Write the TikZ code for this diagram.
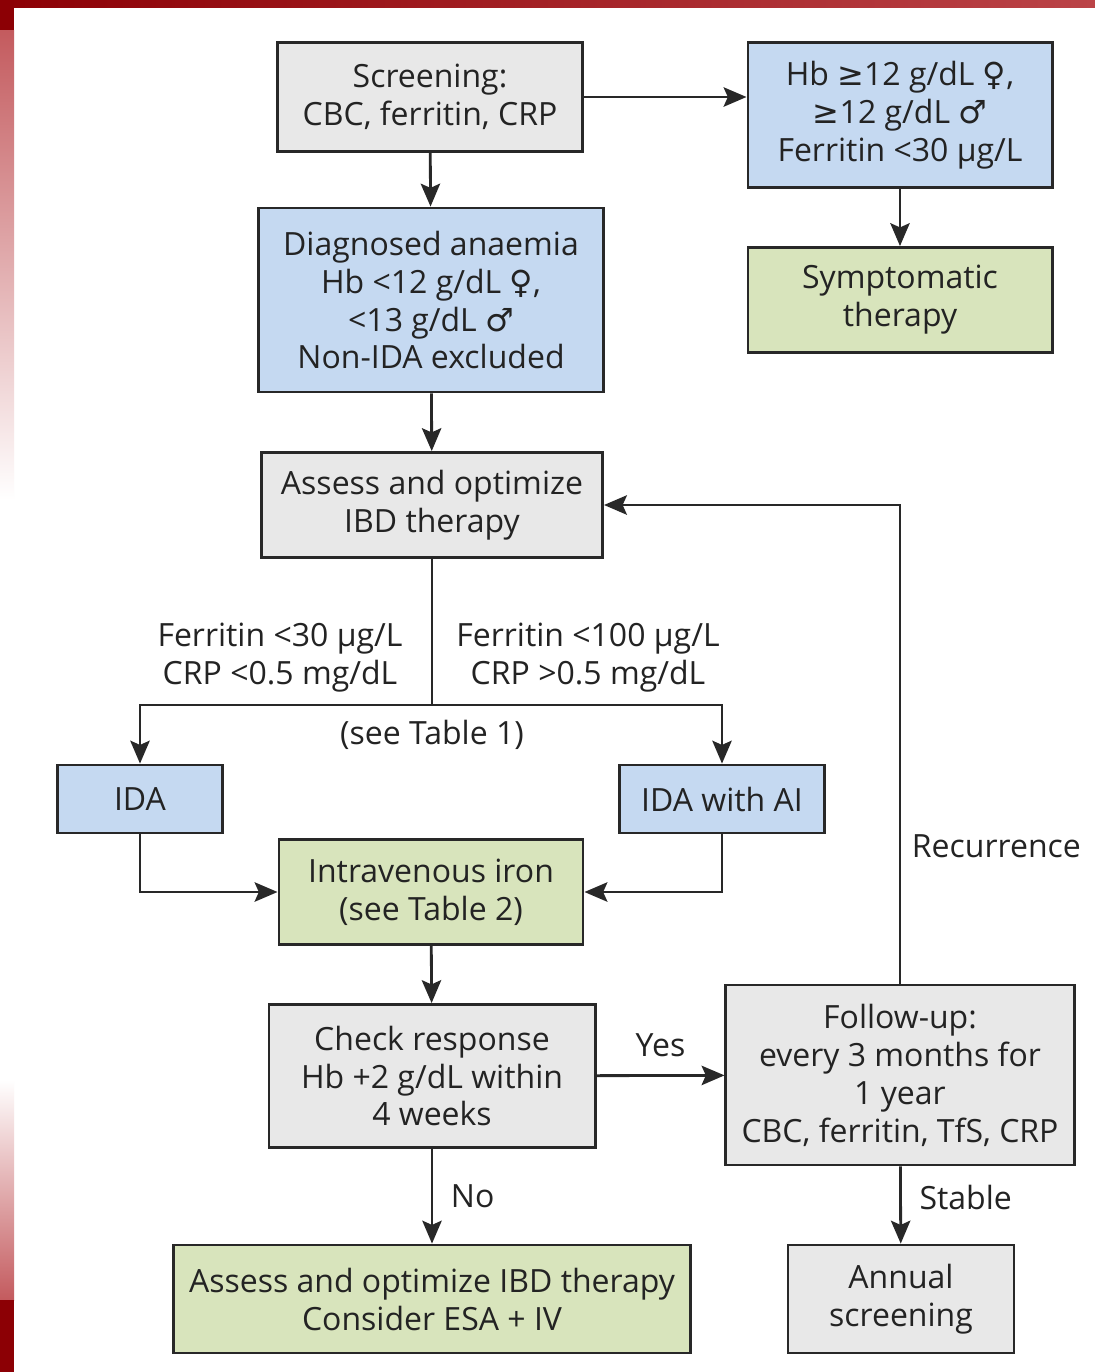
\documentclass[tikz,border=0pt]{standalone}
\usepackage{fontspec}
\setmainfont{Open Sans}
\newfontfamily\symf{DejaVu Sans}
\usetikzlibrary{positioning,arrows.meta}

\definecolor{boxgray}{RGB}{232,232,232}
\definecolor{boxblue}{RGB}{197,217,241}
\definecolor{boxgreen}{RGB}{216,228,188}
\definecolor{edgecol}{RGB}{40,40,40}
\definecolor{textcol}{RGB}{35,35,35}
\definecolor{bandred}{RGB}{170,20,25}
\definecolor{darkred}{RGB}{140,0,5}

\newcommand{\fsym}{{\symf\char"2640}}
\newcommand{\msym}{{\symf\char"2642}}
\newcommand{\gesym}{{\symf\char"2265}}

\tikzset{
  box/.style={draw=edgecol, line width=0.8pt, align=center, inner sep=0pt,
    text=textcol, font=\fontsize{9.1}{10.8}\selectfont},
  graybox/.style={box, fill=boxgray},
  bluebox/.style={box, fill=boxblue},
  greenbox/.style={box, fill=boxgreen},
  lbl/.style={align=center, text=textcol, inner sep=1pt,
    font=\fontsize{9.1}{10.8}\selectfont},
  arr/.style={draw=edgecol, line width=0.8pt,
    -{Stealth[length=6.5pt,width=5.5pt,inset=1.2pt]}},
  wire/.style={draw=edgecol, line width=0.8pt}
}

\begin{document}
\begin{tikzpicture}[x=0.01cm, y=-0.01cm]
\useasboundingbox (0,0) rectangle (1095,1372);
\fill[white] (0,0) rectangle (1095,1372);

% red frame
\shade[left color=darkred, right color=bandred!80!white] (0,0) rectangle (1095,7);
\fill[darkred] (0,0) rectangle (14,30);
\shade[top color=bandred!70!white, bottom color=white] (0,30) rectangle (14,500);
\shade[top color=white, bottom color=bandred!70!white] (0,1080) rectangle (14,1300);
\fill[darkred] (0,1300) rectangle (14,1372);

% top row
\node[graybox, minimum width=3.05cm, minimum height=1.09cm] (scr) at (430,97)
  {Screening:\\CBC, ferritin, CRP};
\node[bluebox, minimum width=3.04cm, minimum height=1.45cm] (hbn) at (900,115)
  {Hb \gesym12 g/dL \fsym,\\\gesym12 g/dL \msym\\Ferritin <30 µg/L};
\node[bluebox, minimum width=3.44cm, minimum height=1.84cm] (diag) at (431,300)
  {Diagnosed anaemia\\Hb <12 g/dL \fsym,\\<13 g/dL \msym\\Non-IDA excluded};
\node[greenbox, minimum width=3.04cm, minimum height=1.05cm] (sym) at (900,300)
  {Symptomatic\\therapy};
\node[graybox, minimum width=3.41cm, minimum height=1.05cm] (assess) at (432,505)
  {Assess and optimize\\IBD therapy};

% split
\coordinate (split) at (432,705);
\node[lbl] (lowfer) at (280,658) {Ferritin <30 µg/L\\CRP <0.5 mg/dL};
\node[lbl] (highfer) at (588,658) {Ferritin <100 µg/L\\CRP >0.5 mg/dL};
\node[lbl] (tab1) at (432,735) {(see Table 1)};

\node[bluebox, minimum width=1.65cm, minimum height=0.68cm] (ida) at (140,799) {IDA};
\node[bluebox, minimum width=2.05cm, minimum height=0.68cm] (idaai) at (722,799) {IDA with AI};
\node[greenbox, minimum width=3.04cm, minimum height=1.05cm] (iv) at (431,892)
  {Intravenous iron\\(see Table 2)};

% bottom part
\node[graybox, minimum width=3.26cm, minimum height=1.43cm] (check) at (432,1076)
  {Check response\\Hb +2 g/dL within\\4 weeks};
\node[graybox, minimum width=3.48cm, minimum height=1.80cm] (fol) at (900,1075)
  {Follow-up:\\every 3 months for\\1 year\\CBC, ferritin, TfS, CRP};
\node[greenbox, minimum width=5.16cm, minimum height=1.08cm] (esa) at (432,1299)
  {Assess and optimize IBD therapy\\Consider ESA + IV};
\node[graybox, minimum width=2.26cm, minimum height=1.08cm] (ann) at (901,1299)
  {Annual\\screening};

% connectors
\draw[arr] (scr.east) -- (scr.east -| hbn.west);
\draw[arr] (scr) -- (diag);
\draw[arr] (hbn) -- (sym);
\draw[arr] (diag) -- (assess);
\draw[wire] (assess) -- (split);
\draw[arr] (split) -| (ida);
\draw[arr] (split) -| (idaai);
\draw[arr] (ida) |- (iv);
\draw[arr] (idaai) |- (iv);
\draw[arr] (iv) -- (check);
\draw[arr] (check) -- node[lbl, above=4pt] {Yes} (fol);
\draw[arr] (check) -- node[lbl, right=4pt] {No} (esa);
\draw[arr] (fol) |- node[lbl, pos=0.144, right=2pt] {Recurrence} (assess);
\draw[arr] (fol) -- node[lbl, right=4pt, yshift=2pt] {Stable} (ann);

\end{tikzpicture}
\end{document}
